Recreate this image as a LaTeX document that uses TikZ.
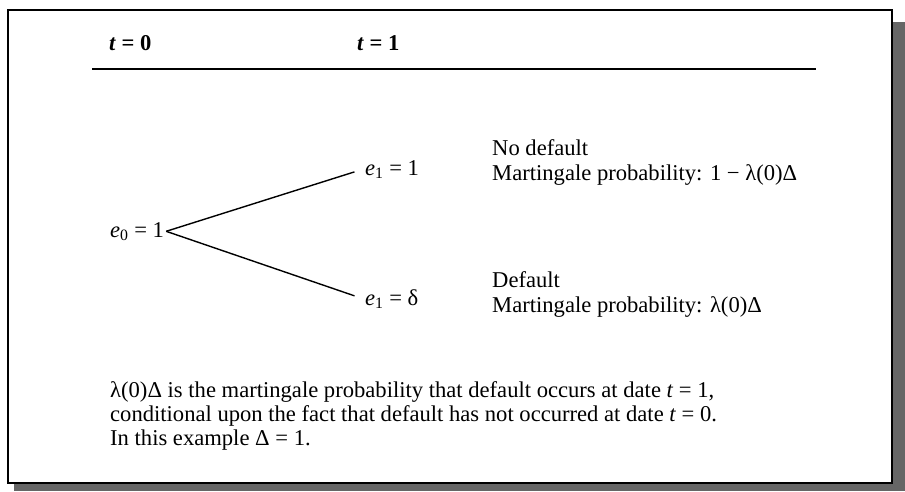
\documentclass[tikz,border=0pt]{standalone}
\usepackage{fontspec}
\setmainfont{Liberation Serif}

\begin{document}
\begin{tikzpicture}[x=1pt, y=-1pt,
    lbl/.style={anchor=base west, inner sep=2pt},
    branch/.style={line width=1.4pt, shorten >=9pt},
    font=\fontsize{22.6}{25}\selectfont
  ]
  \useasboundingbox (0,0) rectangle (905,491);

  % Frame with shadow
  \fill[black!60] (892,22) rectangle (905,491);
  \fill[black!60] (14,483) rectangle (905,491);
  \draw[line width=1.8pt, fill=white] (8,10) rectangle (892,483);

  % Dates
  \node[lbl] (t0) at (107,50) {\textbf{\textit{t} = 0}};
  \node[lbl] (t1) at (355,50) {\textbf{\textit{t} = 1}};
  \coordinate (ruleL) at (92,69);
  \coordinate (ruleR) at (816,69);
  \draw[line width=1.6pt] (ruleL) -- (ruleR);

  % Tree
  \node[lbl] (e0) at (108,237) {\textit{e}\textsubscript{0} = 1};
  \node[lbl] (up) at (363,175) {\textit{e}\textsubscript{1} = 1};
  \node[lbl] (down) at (363,305) {\textit{e}\textsubscript{1} = δ};
  \draw[branch] (e0.east) -- (up.west);
  \draw[branch] (e0.east) -- (down.west);

  % Outcomes
  \node[lbl] (nodef) at (490,155) {No default};
  \node[lbl] (nodefp) at (490,180) {Martingale probability: 1 − λ(0)Δ};
  \node[lbl] (def) at (490,287) {Default};
  \node[lbl] (defp) at (490,312) {Martingale probability: λ(0)Δ};

  % Note below the tree
  \node[lbl] (note1) at (108,397) {λ(0)Δ is the martingale probability that default occurs at date \textit{t} = 1,};
  \node[lbl] (note2) at (108,421) {conditional upon the fact that default has not occurred at date \textit{t} = 0.};
  \node[lbl] (note3) at (108,445) {In this example Δ = 1.};

\end{tikzpicture}
\end{document}
